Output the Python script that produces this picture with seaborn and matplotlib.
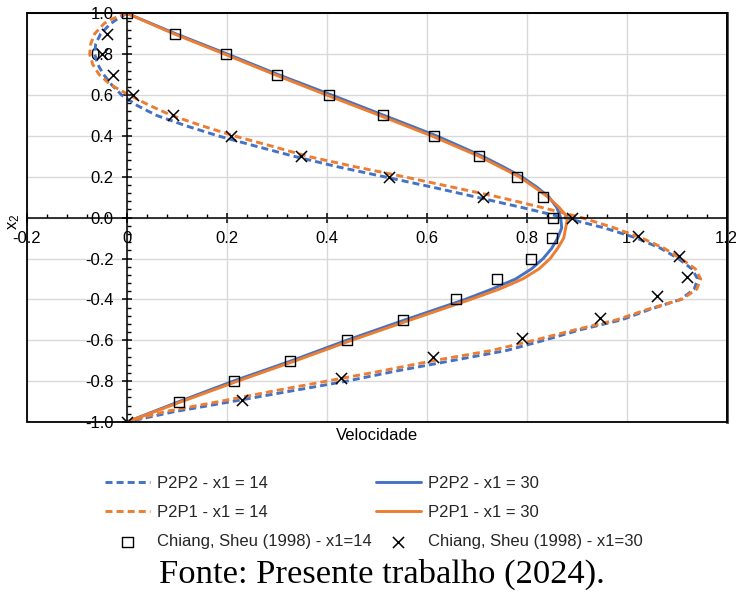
import matplotlib
matplotlib.use("Agg")
import matplotlib.pyplot as plt
import seaborn as sns
from matplotlib.ticker import FixedLocator, MultipleLocator
from matplotlib.patches import Rectangle

# ---------------- data ----------------
y_dash = [1.0, 0.97, 0.95, 0.9, 0.85, 0.8, 0.75, 0.7, 0.65, 0.6, 0.55, 0.5,
          0.45, 0.4, 0.35, 0.3, 0.25, 0.2, 0.15, 0.1, 0.05, 0.0, -0.05, -0.1,
          -0.15, -0.2, -0.25, -0.3, -0.35, -0.4, -0.45, -0.5, -0.55, -0.6,
          -0.65, -0.7, -0.75, -0.8, -0.85, -0.9, -0.95, -1.0]
u_p2p2_14 = [0.0, -0.02, -0.032, -0.052, -0.062, -0.064, -0.058, -0.046, -0.03,
             -0.01, 0.02, 0.06, 0.118, 0.183, 0.258, 0.335, 0.42, 0.515, 0.61,
             0.70, 0.79, 0.875, 0.955, 1.02, 1.068, 1.103, 1.13, 1.142, 1.135,
             1.108, 1.045, 0.99, 0.905, 0.835, 0.76, 0.65, 0.54, 0.44, 0.325,
             0.21, 0.094, 0.0]
u_p2p1_14 = [0.0, -0.032, -0.045, -0.064, -0.072, -0.074, -0.068, -0.055, -0.032,
             0.005, 0.045, 0.09, 0.15, 0.215, 0.29, 0.362, 0.455, 0.555, 0.65,
             0.745, 0.83, 0.91, 0.975, 1.03, 1.075, 1.108, 1.137, 1.148, 1.14,
             1.11, 1.04, 0.98, 0.895, 0.815, 0.73, 0.613, 0.51, 0.40, 0.29,
             0.185, 0.075, 0.0]

y_solid = [1.0, 0.9, 0.8, 0.7, 0.6, 0.5, 0.4, 0.3, 0.25, 0.2, 0.15, 0.1, 0.05,
           0.0, -0.05, -0.1, -0.15, -0.2, -0.25, -0.3, -0.35, -0.4, -0.5, -0.6,
           -0.7, -0.8, -0.9, -1.0]
u_p2p2_30 = [0.0, 0.098, 0.202, 0.303, 0.41, 0.515, 0.62, 0.712, 0.752, 0.79,
             0.82, 0.845, 0.86, 0.868, 0.87, 0.862, 0.85, 0.833, 0.81, 0.778,
             0.73, 0.677, 0.557, 0.44, 0.33, 0.213, 0.105, 0.0]
u_p2p1_30 = [0.0, 0.094, 0.196, 0.296, 0.40, 0.506, 0.61, 0.705, 0.745, 0.785,
             0.815, 0.843, 0.865, 0.882, 0.878, 0.874, 0.862, 0.847, 0.825, 0.792,
             0.745, 0.688, 0.568, 0.45, 0.338, 0.222, 0.11, 0.0]

chiang14_y = [1.0, 0.9, 0.8, 0.7, 0.6, 0.5, 0.4, 0.3, 0.2, 0.1, 0.0, -0.1, -0.2,
              -0.3, -0.4, -0.5, -0.6, -0.7, -0.8, -0.9]
chiang14_u = [0.0, 0.097, 0.199, 0.30, 0.405, 0.512, 0.614, 0.704, 0.781, 0.833,
              0.852, 0.850, 0.809, 0.741, 0.658, 0.553, 0.441, 0.327, 0.215, 0.105]
chiang30_y = [0.9, 0.8, 0.7, 0.6, 0.5, 0.4, 0.3, 0.2, 0.1, 0.0, -0.09, -0.19,
              -0.29, -0.385, -0.49, -0.59, -0.68, -0.785, -0.89, -1.0]
chiang30_u = [-0.039, -0.05, -0.028, 0.013, 0.092, 0.209, 0.349, 0.525, 0.713,
              0.89, 1.023, 1.105, 1.12, 1.06, 0.947, 0.79, 0.613, 0.428, 0.23, 0.0]

xticks = [-0.2, 0, 0.2, 0.4, 0.6, 0.8, 1.0, 1.2]
xtick_labels = ["-0.2", "0", "0.2", "0.4", "0.6", "0.8", "1", "1.2"]
yticks = [1.0, 0.8, 0.6, 0.4, 0.2, 0.0, -0.2, -0.4, -0.6, -0.8, -1.0]
ytick_labels = ["1.0", "0.8", "0.6", "0.4", "0.2", "0.0", "-0.2", "-0.4",
                "-0.6", "-0.8", "-1.0"]

labels = ["P2P2 - x1 = 14", "P2P1 - x1 = 14", "Chiang, Sheu (1998) - x1=14",
          "P2P2 - x1 = 30", "P2P1 - x1 = 30", "Chiang, Sheu (1998) - x1=30"]

BLUE = "#4472C4"
ORANGE = "#ED7D31"
FS = 12

# ---------------- figure ----------------
sns.set_theme(style="white")
plt.rcParams["font.family"] = ["Liberation Sans", "DejaVu Sans"]
plt.rcParams["mathtext.fontset"] = "custom"
plt.rcParams["mathtext.rm"] = "Liberation Sans"
plt.rcParams["mathtext.it"] = "Liberation Sans"

fig = plt.figure(figsize=(7.36, 5.95), dpi=100)
ax = fig.add_axes([26.7 / 736, 1 - 422 / 595, 700 / 736, (422 - 13.3) / 595])

dash = (0, (2.4, 1.4))
sns.lineplot(x=u_p2p2_14, y=y_dash, sort=False, estimator=None, ax=ax,
             color=BLUE, lw=2.1, linestyle=dash, label=labels[0])
sns.lineplot(x=u_p2p1_14, y=y_dash, sort=False, estimator=None, ax=ax,
             color=ORANGE, lw=2.1, linestyle=dash, label=labels[1])
sns.lineplot(x=u_p2p2_30, y=y_solid, sort=False, estimator=None, ax=ax,
             color=BLUE, lw=2.1, label=labels[3])
sns.lineplot(x=u_p2p1_30, y=y_solid, sort=False, estimator=None, ax=ax,
             color=ORANGE, lw=2.1, label=labels[4])
line_handles = list(ax.get_lines())
for ln in line_handles:
    ln.set_dash_capstyle("butt")

sns.scatterplot(x=chiang14_u, y=chiang14_y, marker="s", s=52, ax=ax,
                color="black", linewidth=1.0, label=labels[2], zorder=5)
sq = ax.collections[-1]
sq.set_facecolor("none")
sq.set_edgecolor("black")
sns.scatterplot(x=chiang30_u, y=chiang30_y, marker="x", s=64, ax=ax,
                color="black", linewidth=1.1, label=labels[5], zorder=5)
xs = ax.collections[-1]

ax.set_xlim(-0.2, 1.2)
ax.set_ylim(-1.0, 1.0)

# axes through the origin
ax.spines["left"].set_position(("data", 0))
ax.spines["bottom"].set_position(("data", 0))
for s in ["left", "bottom", "top"]:
    ax.spines[s].set_color("black")
    ax.spines[s].set_linewidth(1.1)
ax.spines["right"].set_color("#404040")
ax.spines["right"].set_linewidth(2.0)
ax.add_patch(Rectangle((0, 0), 1, 1, transform=ax.transAxes, fill=False,
                       ec="black", lw=1.3, clip_on=False, zorder=3))

ax.xaxis.set_major_locator(FixedLocator(xticks))
ax.set_xticklabels(xtick_labels)
ax.yaxis.set_major_locator(FixedLocator(yticks))
ax.set_yticklabels(ytick_labels)
ax.xaxis.set_minor_locator(MultipleLocator(0.04))
ax.yaxis.set_minor_locator(MultipleLocator(0.04))
ax.tick_params(which="major", direction="inout", length=7, width=1.1,
               color="black", labelsize=FS, labelcolor="black")
ax.tick_params(axis="x", which="major", pad=6.0)
ax.tick_params(axis="y", which="major", pad=6.0)
ax.tick_params(which="minor", direction="in", length=3, width=1.0,
               color="black")
ax.tick_params(bottom=True, left=True, which="both")

ax.grid(True, which="major", color="#D9D9D9", lw=1.0)
ax.set_axisbelow(True)

ax.set_xlabel("Velocidade", fontsize=FS, color="black")
ax.xaxis.set_label_coords(0.5, -0.015)
ax.set_ylabel(r"$\mathregular{x_2}$", fontsize=FS, color="black")
ax.yaxis.set_label_coords(-0.006, 0.49)

ax.get_legend().remove()
handles = [line_handles[0], line_handles[1], sq,
           line_handles[2], line_handles[3], xs]
fig.legend(handles, labels, ncol=2, loc="upper left",
           bbox_to_anchor=(105 / 736, 1 - 476 / 595), frameon=False,
           fontsize=FS, handlelength=2.7, handletextpad=0.42,
           columnspacing=0.25, labelspacing=0.85, borderpad=0,
           borderaxespad=0, scatterpoints=1)

fig.text(0.519, 0.034, "Fonte: Presente trabalho (2024).",
         family=["Liberation Serif", "DejaVu Serif"], fontsize=24.8,
         ha="center", va="center", color="black")

fig.savefig("out.png", dpi=100)
